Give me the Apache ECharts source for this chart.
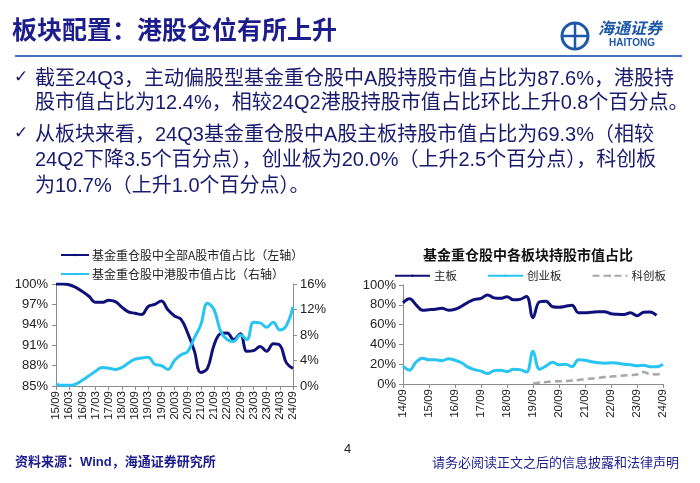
<!DOCTYPE html>
<html><head><meta charset="utf-8">
<script src="https://cdn.jsdelivr.net/npm/echarts@6/dist/echarts.min.js"></script>
<style>html,body{margin:0;padding:0;background:#fff;}#c{width:700px;height:483px;}</style>
</head><body><div id="c"></div>
<script>
// ---- Left chart data (quarterly, 15Q3..24Q3) ----
const leftCats = ["15/09","15/12","16/03","16/06","16/09","16/12","17/03","17/06","17/09","17/12","18/03","18/06","18/09","18/12","19/03","19/06","19/09","19/12","20/03","20/06","20/09","20/12","21/03","21/06","21/09","21/12","22/03","22/06","22/09","22/12","23/03","23/06","23/09","23/12","24/03","24/06","24/09"];
const aShareAll = [100,100,99.9,99.5,98.9,98.2,97.3,97.3,97.6,97.4,96.6,95.9,95.7,95.5,96.7,97.0,97.5,96.2,95.3,94.8,92.8,90.2,87.0,87.6,91.0,92.7,92.8,91.8,92.7,90.1,90.2,90.8,90.1,91.2,91.0,88.4,87.6];
const hkShare = [0.3,0.1,0.1,0.3,0.9,1.6,2.3,2.9,2.8,2.6,2.9,3.6,4.2,4.4,4.5,3.4,3.2,2.6,4.0,4.9,5.4,7.5,9.6,13.0,12.0,8.6,7.3,7.0,8.0,7.3,10.0,9.9,9.2,10.0,8.8,9.5,12.4];
const leftTicksL = [85,100,3];
const leftTicksR = [0,16,4];
// ---- Right chart data (quarterly, 14Q3..24Q3) ----
const rightCats = ["14/09","14/12","15/03","15/06","15/09","15/12","16/03","16/06","16/09","16/12","17/03","17/06","17/09","17/12","18/03","18/06","18/09","18/12","19/03","19/06","19/09","19/12","20/03","20/06","20/09","20/12","21/03","21/06","21/09","21/12","22/03","22/06","22/09","22/12","23/03","23/06","23/09","23/12","24/03","24/06","24/09"];
const mainBoard = [82,86,80,74.5,75,75.6,76.5,74.5,75.5,78.5,82.5,85.5,86.5,90,87,86.5,88.2,85,85.5,88.5,67,83,83.5,78,77.5,78.5,79.5,72,72,72.5,73,73,71,70.5,70.3,72,69,72.5,72.8,69.3];
const chiNext = [18,14,22,26,24.5,24.5,23.5,25.5,24,21.5,17,14.5,13,10.5,13.5,14,12.5,15,14.5,12,33,15,18,22,19.5,20,17.5,24.5,24,22.5,21.5,21,21.5,21,20,19.5,18.5,19,17.5,17.5,20];
const star = [null,null,null,null,null,null,null,null,null,null,null,null,null,null,null,null,null,null,null,null,0.3,1.5,2,2.5,2.8,3,3.5,4,5,5.5,6,7,7.5,8,8.5,9,9.5,12,10,9.7,10.7];
const rightTicks = [0,100,20];

const NAVY = '#10107a', CYAN = '#29c4f2', GRAY = '#a8a8a8', TXT = '#1a1a6e';
const latin = '"Liberation Sans","Noto Sans CJK SC",sans-serif';
const cjk = '"Noto Sans CJK SC",sans-serif';

const chart = echarts.init(document.getElementById('c'), null, {renderer:'canvas'});
function txt(x,y,text,font,fill,extra){return Object.assign({type:'text',left:x,top:y,style:{text:text,font:font,fill:fill}},extra||{});}
const axisLineStyle = {lineStyle:{color:'#8c8c8c',width:1}};
const xLabel = {rotate:90,fontSize:11.5,color:'#222',fontFamily:latin,margin:5};
chart.setOption({
  animation:false,
  graphic:[
    txt(12,17,'板块配置：港股仓位有所上升','bold 25px '+cjk,'#1c1c8c'),
    {type:'line',shape:{x1:15,y1:56,x2:682,y2:56},style:{stroke:'#3f6fc0',lineWidth:2}},
    {type:'circle',shape:{cx:575,cy:36,r:13},style:{fill:'none',stroke:'#1d57a8',lineWidth:3}},
    {type:'line',shape:{x1:562,y1:36,x2:588,y2:36},style:{stroke:'#1d57a8',lineWidth:2.5}},
    {type:'line',shape:{x1:575,y1:23,x2:575,y2:49},style:{stroke:'#1d57a8',lineWidth:2.5}},
    txt(598,20,'海通证券','italic bold 16px '+cjk,'#1d57a8'),
    txt(609,38,'HAITONG','bold 10px '+latin,'#1d57a8'),
    txt(14,69,'✓','17px "DejaVu Sans"',TXT),
    txt(35,69,'截至24Q3，主动偏股型基金重仓股中A股持股市值占比为87.6%，港股持','20px '+latin,TXT),
    txt(35,93,'股市值占比为12.4%，相较24Q2港股持股市值占比环比上升0.8个百分点。','20px '+latin,TXT),
    txt(14,125,'✓','17px "DejaVu Sans"',TXT),
    txt(35,125,'从板块来看，24Q3基金重仓股中A股主板持股市值占比为69.3%（相较','20px '+latin,TXT),
    txt(35,150,'24Q2下降3.5个百分点），创业板为20.0%（上升2.5个百分点），科创板','20px '+latin,TXT),
    txt(35,176,'为10.7%（上升1.0个百分点）。','20px '+latin,TXT),
    txt(423,248,'基金重仓股中各板块持股市值占比','bold 14px '+cjk,'#111'),
    txt(15,456,'资料来源：Wind，海通证券研究所','bold 13px '+latin,'#1c1c8c'),
    txt(344,443,'4','13px '+latin,'#222'),
    txt(432,456,'请务必阅读正文之后的信息披露和法律声明','13px '+cjk,'#1c1c8c')
  ],
  legend:[
    {data:['基金重仓股中全部A股市值占比（左轴）','基金重仓股中港股市值占比（右轴）'],orient:'vertical',left:55,top:244,itemWidth:28,itemHeight:3,itemGap:7,textStyle:{fontSize:12,color:'#222',fontFamily:cjk,padding:[0,0,0,-2]}},
    {data:['主板','创业板','科创板'],orient:'horizontal',left:389,top:265,itemWidth:35,itemHeight:3,itemGap:30,textStyle:{fontSize:11.5,color:'#222',fontFamily:cjk,padding:[0,0,0,-1]}}
  ],
  grid:[
    {left:56,right:407,top:284,bottom:97},
    {left:403,right:37,top:285,bottom:99}
  ],
  xAxis:[
    {type:'category',gridIndex:0,data:leftCats,boundaryGap:false,axisLine:axisLineStyle,axisTick:{interval:1,lineStyle:{color:'#8c8c8c'},length:4},axisLabel:Object.assign({interval:1},xLabel)},
    {type:'category',gridIndex:1,data:rightCats,boundaryGap:false,axisLine:axisLineStyle,axisTick:{interval:3,lineStyle:{color:'#8c8c8c'},length:4},axisLabel:Object.assign({interval:3},xLabel)}
  ],
  yAxis:[
    {type:'value',gridIndex:0,min:leftTicksL[0],max:leftTicksL[1],interval:leftTicksL[2],splitLine:{show:false},axisLine:Object.assign({show:true},axisLineStyle),axisTick:{show:true,length:4,lineStyle:{color:'#8c8c8c'}},axisLabel:{formatter:'{value}%',fontSize:13,color:'#222',fontFamily:latin,margin:8}},
    {type:'value',gridIndex:0,position:'right',min:leftTicksR[0],max:leftTicksR[1],interval:leftTicksR[2],splitLine:{show:false},axisLine:Object.assign({show:true},axisLineStyle),axisTick:{show:true,length:4,lineStyle:{color:'#8c8c8c'}},axisLabel:{formatter:'{value}%',fontSize:13,color:'#222',fontFamily:latin,margin:7}},
    {type:'value',gridIndex:1,min:rightTicks[0],max:rightTicks[1],interval:rightTicks[2],splitLine:{show:false},axisLine:Object.assign({show:true},axisLineStyle),axisTick:{show:true,length:4,lineStyle:{color:'#8c8c8c'}},axisLabel:{formatter:'{value}%',fontSize:13,color:'#222',fontFamily:latin,margin:7}}
  ],
  series:[
    {name:'基金重仓股中全部A股市值占比（左轴）',type:'line',xAxisIndex:0,yAxisIndex:0,data:aShareAll,smooth:0.4,symbol:'none',lineStyle:{color:NAVY,width:3},itemStyle:{color:NAVY}},
    {name:'基金重仓股中港股市值占比（右轴）',type:'line',xAxisIndex:0,yAxisIndex:1,data:hkShare,smooth:0.4,symbol:'none',lineStyle:{color:CYAN,width:3},itemStyle:{color:CYAN}},
    {name:'主板',type:'line',xAxisIndex:1,yAxisIndex:2,data:mainBoard,smooth:0.4,symbol:'none',lineStyle:{color:NAVY,width:3},itemStyle:{color:NAVY}},
    {name:'创业板',type:'line',xAxisIndex:1,yAxisIndex:2,data:chiNext,smooth:0.4,symbol:'none',lineStyle:{color:CYAN,width:3},itemStyle:{color:CYAN}},
    {name:'科创板',type:'line',xAxisIndex:1,yAxisIndex:2,data:star,smooth:0.4,symbol:'none',lineStyle:{color:GRAY,width:2.5,type:[7,4]},itemStyle:{color:GRAY}}
  ]
});
</script></body></html>
